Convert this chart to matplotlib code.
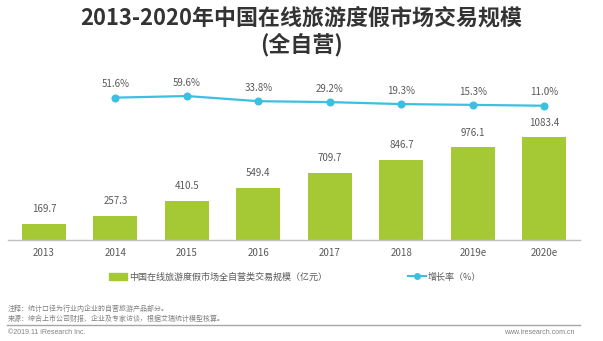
import matplotlib
matplotlib.use('Agg')
import matplotlib.pyplot as plt
from matplotlib.lines import Line2D
from matplotlib.patches import Patch

plt.rcParams['font.family'] = ['Noto Sans CJK SC', 'DejaVu Sans']

years = ['2013', '2014', '2015', '2016', '2017', '2018', '2019e', '2020e']
scale = [169.7, 257.3, 410.5, 549.4, 709.7, 846.7, 976.1, 1083.4]
growth = [51.6, 59.6, 33.8, 29.2, 19.3, 15.3, 11.0]

GREEN = '#a5c935'
BLUE = '#3cc0e0'
GRAY_TXT = '#595959'

fig = plt.figure(figsize=(6.03, 3.41), dpi=100)
ax = fig.add_axes([8.2 / 603, 0.2962, 571.8 / 603, 0.4692])

x = list(range(len(years)))
ax.bar(x, scale, width=0.615, color=GREEN)
for xi, v in zip(x, scale):
    ax.annotate('%.1f' % v, (xi, v), xytext=(0, 7), textcoords='offset points',
                ha='center', va='bottom', fontsize=7, color=GRAY_TXT)
ax.set_xlim(-0.5, len(years) - 0.5)
ax.set_ylim(0, 1688)
ax.set_xticks(x)
ax.set_xticklabels(years, fontsize=7, color=GRAY_TXT)
ax.tick_params(axis='x', length=0, pad=6)
ax.set_yticks([])
for s in ['top', 'left', 'right']:
    ax.spines[s].set_visible(False)
ax.spines['bottom'].set_color('#bfbfbf')
ax.spines['bottom'].set_linewidth(1)

# growth rate on its own scale, squeezed near the top
ax2 = ax.twinx()
ax2.plot(x[1:], growth, color=BLUE, lw=1.6, marker='o', markersize=4.8)
for xi, g in zip(x[1:], growth):
    ax2.annotate('%.1f%%' % g, (xi, g), xytext=(0, 6), textcoords='offset points',
                 ha='center', va='bottom', fontsize=7, color=GRAY_TXT)
ax2.set_ylim(-662, 140)
ax2.set_yticks([])
for s in ['top', 'left', 'right', 'bottom']:
    ax2.spines[s].set_visible(False)

fig.text(0.5, 1 - 18 / 341, '2013-2020年中国在线旅游度假市场交易规模', ha='center', va='center',
         fontsize=15.8, fontweight='bold', color='#333333')
fig.text(0.5, 1 - 45 / 341, '(全自营)', ha='center', va='center',
         fontsize=15.8, fontweight='bold', color='#333333')

handles = [Patch(color=GREEN),
           Line2D([], [], color=BLUE, lw=1.5, marker='o', markersize=4)]
labels = ['中国在线旅游度假市场全自营类交易规模（亿元）', '增长率（%）']
fig.legend(handles, labels, loc='center left', bbox_to_anchor=(109 / 603, 1 - 277 / 341),
           ncol=2, frameon=False, fontsize=6.5, handlelength=2.0, handleheight=0.7,
           handletextpad=0.2, columnspacing=9, borderpad=0, borderaxespad=0,
           labelcolor=GRAY_TXT)

fig.text(8 / 603, 1 - 309 / 341, '注释：统计口径为行业内企业的自营旅游产品部分。', fontsize=5,
         color='#808080', va='center')
fig.text(8 / 603, 1 - 319 / 341, '来源：综合上市公司财报、企业及专家访谈，根据艾瑞统计模型核算。', fontsize=5,
         color='#808080', va='center')
fig.add_artist(Line2D([7 / 603, 580 / 603], [1 - 325 / 341, 1 - 325 / 341],
                      color='#a6a6a6', lw=1, transform=fig.transFigure))
fig.text(8 / 603, 1 - 333 / 341, '©2019.11 iResearch Inc.', fontsize=5, color='#808080',
         va='center', family=['Liberation Sans', 'DejaVu Sans'])
fig.text(575 / 603, 1 - 333 / 341, 'www.iresearch.com.cn', fontsize=5, color='#808080',
         va='center', ha='right', family=['Liberation Sans', 'DejaVu Sans'])

fig.savefig('out.png', dpi=100, facecolor='white')
